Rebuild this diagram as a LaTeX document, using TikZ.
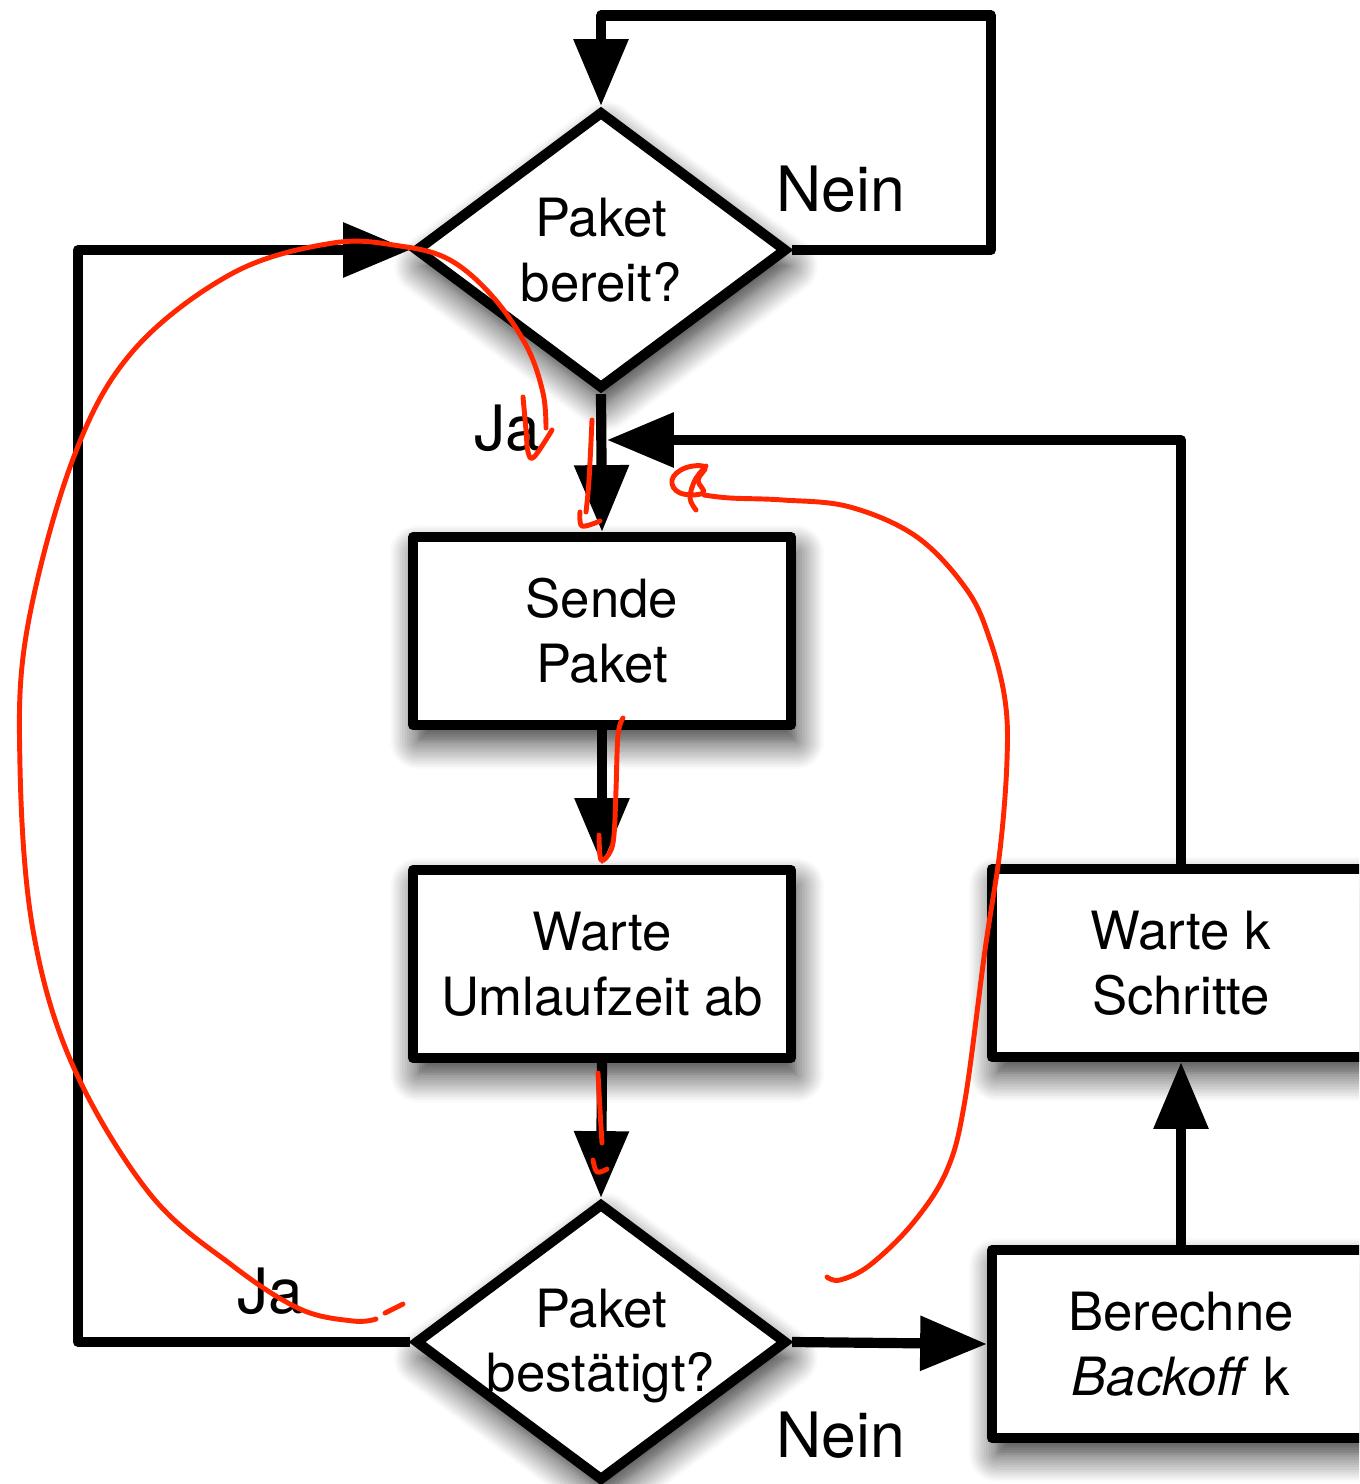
\documentclass[tikz,border=0pt]{standalone}
\usepackage{fontspec}
\setmainfont{TeX Gyre Heros}
\usetikzlibrary{arrows.meta,shapes.geometric,shadows.blur}
\definecolor{inkred}{RGB}{255,38,0}
\begin{document}
\begin{tikzpicture}[x=1cm,y=1cm,
  txt/.style={font=\fontsize{15}{18.4}\selectfont, align=center, inner sep=0pt},
  softshadow/.style={blur shadow={shadow xshift=0.05cm, shadow yshift=-0.16cm, shadow blur radius=0.28cm, shadow blur steps=12, shadow opacity=85}},
  box/.style={draw, line width=2.9pt, line join=round, minimum width=3.78cm, minimum height=1.88cm, fill=white, align=center, inner sep=0pt, font=\fontsize{15}{18.4}\selectfont, softshadow},
  dia/.style={draw, diamond, line width=2.9pt, minimum width=3.72cm, minimum height=2.78cm, fill=white, inner sep=0pt, softshadow},
  lbl/.style={font=\fontsize{17.8}{20}\selectfont, anchor=base west, inner sep=0pt},
  con/.style={line width=2.9pt, line join=round, -{Triangle[length=19pt,width=15pt]}},
  ink/.style={draw=inkred, line width=1.4pt, line cap=round, line join=round}
]
\useasboundingbox (0,0) rectangle (13.59,-14.84);
\clip (0,0) rectangle (13.59,-14.84);

% nodes
\node[dia] (d1) at (6.01,-2.50) {};
\node[txt] (d1txt) at (d1.center) {Paket\\bereit?};
\node[box] (sende) at (6.02,-6.31) {Sende\\Paket};
\node[box] (umlauf) at (6.02,-9.64) {Warte\\Umlaufzeit ab};
\node[dia] (d2) at (6.01,-13.42) {};
\node[txt] (d2txt) at (6.01,-13.46) {Paket\\bestätigt?};
\node[box] (wk) at (11.81,-9.63) {Warte k\\Schritte};
\node[box] (bo) at (11.81,-13.44) {Berechne\\\textit{Backoff} k};

\coordinate (jn) at (6.07,-4.40);

% connectors
\draw[con] (d1.east) -- (9.91,-2.50) -- (9.91,-0.155) -- (6.01,-0.155) -- (d1.north);
\draw[con] (d2.west) -- (0.78,-13.42) -- (0.78,-2.50) -- (d1.west);
\draw[con] (d1.south) -- (sende.north);
\draw[con] (wk.north) |- (jn);
\draw[con] (sende.south) -- (umlauf.north);
\draw[con] (umlauf.south) -- (d2.north);
\draw[con] (d2.east) -- (bo.west);
\draw[con] (bo.north) -- (wk.south);

% labels
\node[lbl] (nein1) at (7.76,-2.12) {Nein};
\node[lbl] (ja1) at (4.74,-4.50) {Ja};
\node[lbl] (ja2) at (2.37,-13.13) {Ja};
\node[lbl] (nein2) at (7.76,-14.57) {Nein};

% red hand annotations
\draw[ink] plot[smooth, tension=0.6] coordinates {(3.76,-13.19) (3.53,-13.21) (3.00,-13.09) (2.33,-12.66) (1.50,-11.94) (0.73,-10.66) (0.33,-9.30) (0.20,-7.66) (0.27,-6.30) (0.73,-4.59) (1.33,-3.51) (2.33,-2.73) (3.33,-2.43) (4.00,-2.46) (4.50,-2.60) (4.93,-2.97) (5.27,-3.47) (5.43,-3.93) (5.46,-4.28)};
\draw[ink] (3.85,-13.13) -- (4.03,-13.04);
\draw[ink] plot[smooth, tension=0.6] coordinates {(5.23,-3.97) (5.26,-4.30) (5.28,-4.52) (5.34,-4.57) (5.52,-4.30)};
\draw[ink] plot[smooth, tension=0.6] coordinates {(5.92,-4.20) (5.89,-4.80) (5.86,-5.12)};
\draw[ink] plot[smooth, tension=0.6] coordinates {(5.80,-5.12) (5.82,-5.26) (6.00,-5.21)};
\draw[ink] plot[smooth, tension=0.6] coordinates {(6.23,-7.18) (6.18,-7.35) (6.16,-7.90) (6.14,-8.35) (6.10,-8.52) (6.01,-8.60) (5.99,-8.35)};
\draw[ink] plot[smooth, tension=0.6] coordinates {(5.98,-10.73) (6.00,-11.10) (6.02,-11.43)};
\draw[ink] plot[smooth, tension=0.6] coordinates {(5.93,-11.60) (5.97,-11.72) (6.07,-11.69)};
\draw[ink] plot[smooth, tension=0.6] coordinates {(8.27,-12.77) (8.40,-12.80) (8.70,-12.65) (9.13,-12.23) (9.47,-11.70) (9.65,-11.00) (9.85,-9.50) (10.00,-8.50) (10.07,-7.60) (10.05,-7.00) (9.90,-6.40) (9.67,-5.90) (9.17,-5.37) (8.50,-5.07) (7.83,-5.00) (7.30,-4.98) (7.04,-4.95)};
\draw[ink] plot[smooth cycle, tension=0.7] coordinates {(7.05,-4.67) (6.85,-4.68) (6.72,-4.80) (6.80,-4.93) (7.03,-4.93) (6.98,-4.80)};
\draw[ink] plot[smooth, tension=0.6] coordinates {(7.06,-4.66) (6.95,-4.80) (6.90,-4.98) (6.96,-5.10)};
\end{tikzpicture}
\end{document}
